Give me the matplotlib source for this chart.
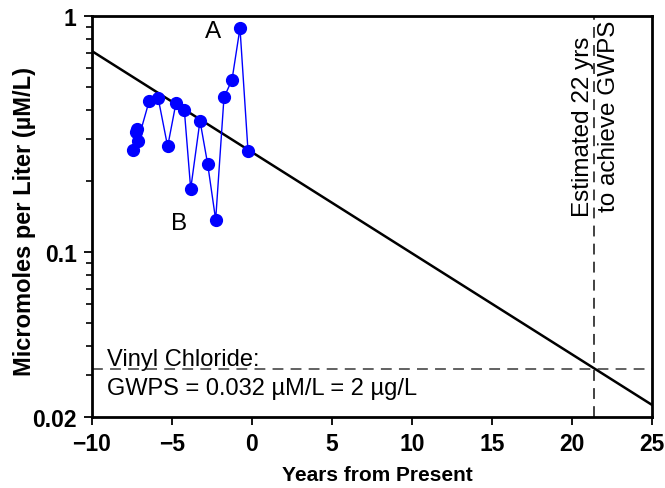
import matplotlib
matplotlib.use('Agg')
import matplotlib.pyplot as plt
import numpy as np

# measured vinyl chloride concentrations (uM/L)
years = [-7.42, -7.27, -7.21, -7.14, -6.42, -5.86, -5.27, -4.75, -4.23,
         -3.83, -3.25, -2.77, -2.27, -1.75, -1.25, -0.75, -0.25]
conc = [0.271, 0.321, 0.332, 0.294, 0.438, 0.448, 0.280, 0.428, 0.401,
        0.185, 0.360, 0.236, 0.137, 0.452, 0.536, 0.889, 0.269]

# log-linear trend end points
trend_x = [-10, 25]
trend_y = [0.71, 0.0225]

gwps = 0.032
years_to_gwps = 21.4

plt.rcParams['font.family'] = ['Liberation Sans', 'DejaVu Sans']

fig = plt.figure(figsize=(6.65, 4.89), dpi=100)
ax = fig.add_axes([0.1383, 0.1452, 0.8422, 0.82])

ax.plot(trend_x, trend_y, color='black', lw=1.8, zorder=2)
ax.plot(years, conc, color='blue', lw=1, marker='o', ms=8.5, zorder=3)
ax.axhline(gwps, color='#555555', lw=1.3, ls=(0, (6, 4)), zorder=1)
ax.axvline(years_to_gwps, color='#333333', lw=1.3, ls=(0, (6, 4)), zorder=1)

ax.set_yscale('log')
ax.set_xlim(-10, 25)
ax.set_ylim(0.02, 1)
ax.set_xticks(np.arange(-10, 26, 5))
ax.set_yticks([0.02, 0.1, 1])
ax.set_yticklabels(['0.02', '0.1', '1'])
ax.tick_params(direction='out', which='major', length=6, width=1.3,
               labelsize=16.5, pad=5)
ax.tick_params(direction='out', which='minor', length=4, width=1.2)
ax.tick_params(axis='x', which='minor', bottom=False)
for lab in ax.get_xticklabels() + ax.get_yticklabels():
    lab.set_fontweight('bold')
for s in ax.spines.values():
    s.set_linewidth(2)

ax.set_xlabel('Years from Present', fontsize=15, fontweight='bold')
ax.xaxis.set_label_coords(0.51, -0.12)
ax.set_ylabel('Micromoles per Liter (\u00b5M/L)', fontsize=17, fontweight='bold')
ax.yaxis.set_label_coords(-0.1, 0.49)

ax.text(-2.44, 0.86, 'A', fontsize=17.5, ha='center', va='center')
ax.text(-4.56, 0.133, 'B', fontsize=17.5, ha='center', va='center')
ax.text(-9.06, 0.0332, 'Vinyl Chloride:', fontsize=17, ha='left', va='baseline')
ax.text(-9.06, 0.0250, 'GWPS = 0.032 \u00b5M/L = 2 \u00b5g/L', fontsize=17,
        ha='left', va='baseline')
ax.text(20.69, 0.342, 'Estimated 22 yrs', fontsize=17.5,
        rotation=90, ha='center', va='center')
ax.text(22.31, 0.3805, 'to achieve GWPS', fontsize=17.5,
        rotation=90, ha='center', va='center')

fig.savefig('out.png', dpi=100)
